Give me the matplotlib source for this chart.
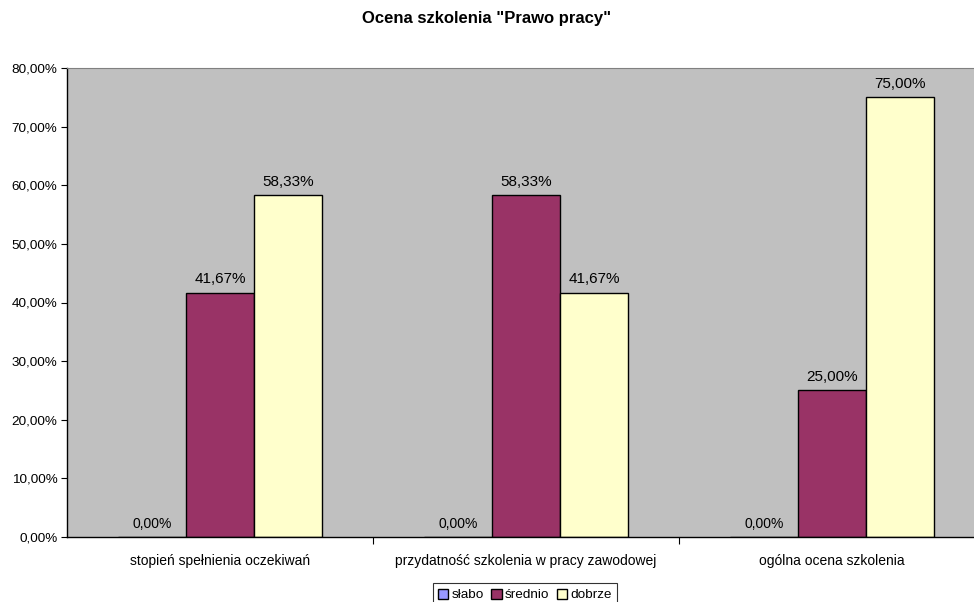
import numpy as np
import matplotlib
matplotlib.use("Agg")
import matplotlib.pyplot as plt
from matplotlib.ticker import FuncFormatter

plt.rcParams['font.family'] = ['Liberation Sans', 'DejaVu Sans']

# data
categories = ["stopień spełnienia oczekiwań",
              "przydatność szkolenia w pracy zawodowej",
              "ogólna ocena szkolenia"]
series_names = ["słabo", "średnio", "dobrze"]
slabo = [0.0, 0.0, 0.0]
srednio = [0.4167, 0.5833, 0.25]
dobrze = [0.5833, 0.4167, 0.75]
colors = ["#9999FF", "#993366", "#FFFFCC"]

def pct(v):
    return ("%.2f%%" % (v * 100)).replace(".", ",")

fig = plt.figure(figsize=(9.74, 6.02), dpi=100)
ax = fig.add_axes([67 / 974, 65 / 602, 918 / 974, 469 / 602])
ax.set_facecolor("#C0C0C0")

x = np.arange(len(categories))
w = 1 / 4.5
for i, (vals, name, c) in enumerate(zip([slabo, srednio, dobrze], series_names, colors)):
    pos = x + (i - 1) * w
    ax.bar(pos, vals, width=w, color=c, edgecolor="black", linewidth=1, label=name)
    for p, v in zip(pos, vals):
        fs = 10 if v == 0 else 11
        ax.text(p, v + 0.011, pct(v), ha="center", va="bottom", fontsize=fs)

ax.set_xlim(-0.5, 2.5)
ax.set_ylim(0, 0.8)
ax.set_yticks(np.arange(0, 0.81, 0.1))
ax.yaxis.set_major_formatter(FuncFormatter(lambda v, p: pct(v)))
ax.tick_params(axis="y", direction="out", length=4, labelsize=9.7, pad=3)

ax.set_xticks([0.5, 1.5])
ax.set_xticklabels([])
ax.set_xticks(x, minor=True)
ax.set_xticklabels(categories, minor=True, fontsize=10)
ax.tick_params(axis="x", which="major", direction="out", length=5)
ax.tick_params(axis="x", which="minor", length=0, pad=12)

for s in ["left", "bottom"]:
    ax.spines[s].set_color("black")
    ax.spines[s].set_linewidth(1)
ax.spines["top"].set_color("#808080")
ax.spines["right"].set_visible(False)

fig.text(0.5, 1 - 18 / 602, 'Ocena szkolenia "Prawo pracy"', ha="center", va="center",
         fontsize=12, fontweight="bold")

leg = fig.legend(loc="lower center", bbox_to_anchor=(0.539, -0.008), ncol=3, fontsize=9.7,
                 frameon=True, fancybox=False, edgecolor="black", handlelength=0.75,
                 handleheight=0.75, handletextpad=0.25, columnspacing=0.55,
                 borderpad=0.4, borderaxespad=0)
leg.get_frame().set_linewidth(0.8)

fig.savefig("out.png", dpi=100)
